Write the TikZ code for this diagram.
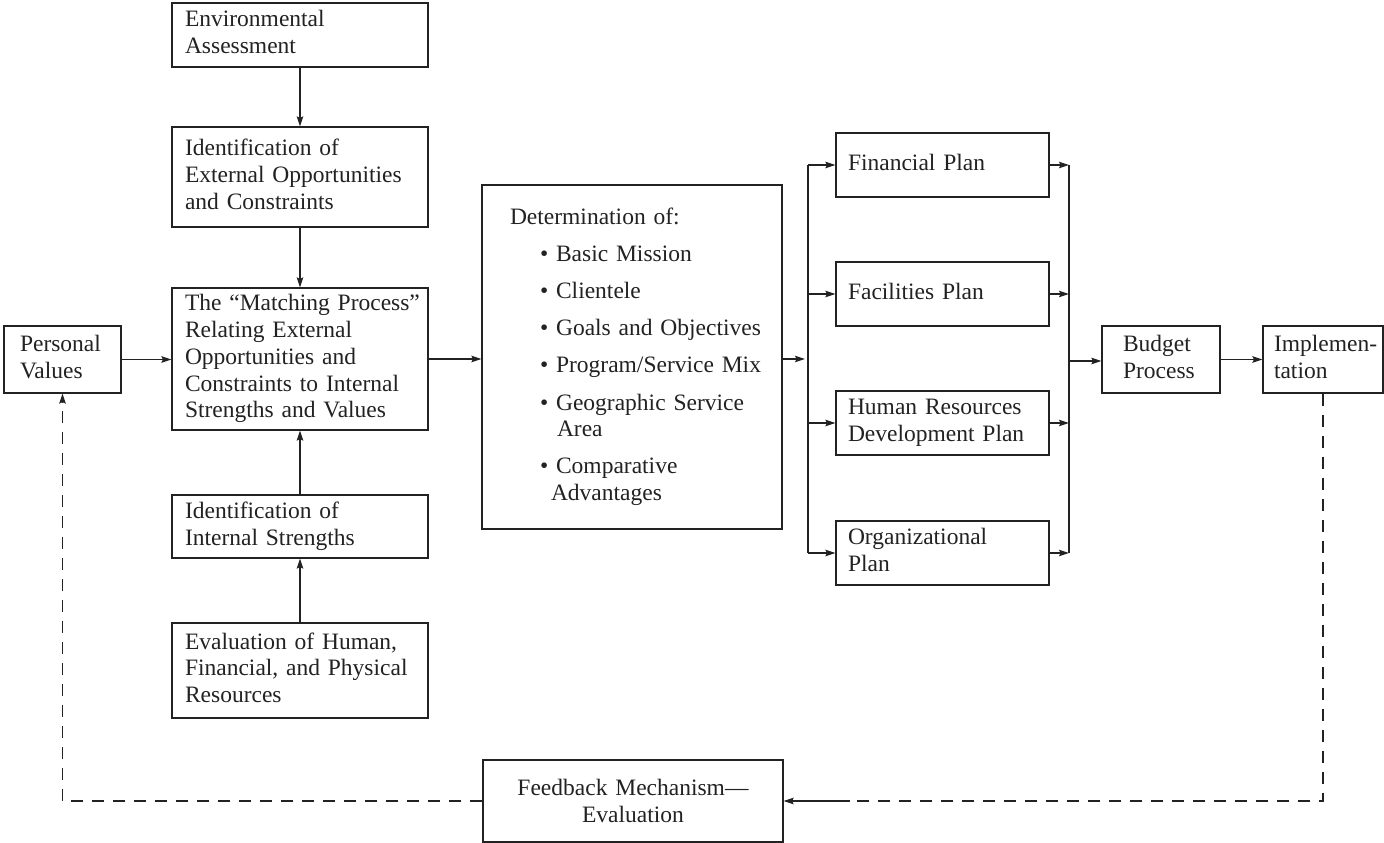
\documentclass[tikz,border=0pt]{standalone}
\usepackage{fontspec}
\newfontfamily\diafont{Liberation Serif}
\usetikzlibrary{arrows.meta}
\definecolor{ink}{HTML}{222222}
% each line of a box is set on its own, never broken
\newcommand\boxlines[1]{\raisebox{-2.5pt}{\begin{tabular}[c]{@{}l@{}}#1\end{tabular}}}
\tikzset{
  box/.style={draw=ink, line width=1.25pt, inner ysep=0pt, align=left, text=ink,
              font={\diafont\fontsize{23.5}{26.7}\selectfont}},
  link/.style={draw=ink, line width=1.25pt},
  arr/.style={link, -{Stealth[length=10pt,width=6.5pt,inset=1.5pt]}},
  fbline/.style={link, dash pattern=on 12pt off 9pt},
}
\begin{document}
\begin{tikzpicture}[x=1pt,y=-1pt]
\useasboundingbox (0,0) rectangle (1384,843);

% left column
\node[box, text width=230pt, inner xsep=13pt, minimum height=64pt] (env) at (300,35)
  {\boxlines{Environmental\\Assessment}};
\node[box, text width=230pt, inner xsep=13pt, minimum height=100pt] (ext) at (300,177)
  {\boxlines{Identification of\\External Opportunities\\and Constraints}};
\node[box, text width=230pt, inner xsep=13pt, minimum height=142pt] (match) at (300,359)
  {\boxlines{The “Matching Process”\\Relating External\\Opportunities and\\Constraints to Internal\\Strengths and Values}};
\node[box, text width=230pt, inner xsep=13pt, minimum height=63pt] (int) at (300,526.5)
  {\boxlines{Identification of\\Internal Strengths}};
\node[box, text width=230pt, inner xsep=13pt, minimum height=95pt] (eval) at (300,670.5)
  {\boxlines{Evaluation of Human,\\Financial, and Physical\\Resources}};

\node[box, text width=85pt, inner xsep=16pt, minimum height=67pt] (pv) at (62.5,359.5)
  {\boxlines{Personal\\Values}};

% determination box
\node[box, text width=244pt, inner xsep=28pt, minimum height=344pt] (det) at (632,357)
  {\boxlines{Determination of:\\[10.5pt]
   \hspace*{30pt}• Basic Mission\\[10.5pt]
   \hspace*{30pt}• Clientele\\[10.5pt]
   \hspace*{30pt}• Goals and Objectives\\[10.5pt]
   \hspace*{30pt}• Program/Service Mix\\[10.5pt]
   \hspace*{30pt}• Geographic Service\\
   \hspace*{47pt}Area\\[10.5pt]
   \hspace*{30pt}• Comparative\\
   \hspace*{41pt}Advantages}};

% plans
\node[box, text width=189pt, inner xsep=12pt, minimum height=64pt] (fin) at (942.5,165) {\boxlines{Financial Plan}};
\node[box, text width=189pt, inner xsep=12pt, minimum height=64pt] (fac) at (942.5,294) {\boxlines{Facilities Plan}};
\node[box, text width=189pt, inner xsep=12pt, minimum height=64pt] (hr)  at (942.5,423) {\boxlines{Human Resources\\Development Plan}};
\node[box, text width=189pt, inner xsep=12pt, minimum height=64pt] (org) at (942.5,553) {\boxlines{Organizational\\Plan}};

\node[box, text width=76pt, inner xsep=21pt, minimum height=67pt] (bud) at (1161,359.5) {\boxlines{Budget\\Process}};
\node[box, text width=98pt, inner xsep=11pt, minimum height=67pt] (imp) at (1323,359.5) {\boxlines{Implemen-\\tation}};

\node[box, align=center, text width=280pt, inner xsep=10pt, minimum height=82pt] (fb) at (633,801)
  {Feedback Mechanism—\\Evaluation};

% connectors in the left column
\draw[arr] (env) -- (ext);
\draw[arr] (ext) -- (match);
\draw[arr] (eval) -- (int);
\draw[arr] (int) -- (match);
\draw[arr] (pv.east) -- (pv.east -| match.west);
\draw[arr] (match.east) -- (match.east -| det.west);

% distribution and collection buses
\coordinate (lb) at (808,359);
\coordinate (rb) at (1069,361);
\draw[arr] (det.east |- lb) -- ([xshift=-3pt]lb);
\draw[link] (fin.west -| lb) -- (org.west -| lb);
\draw[link] (fin.east -| rb) -- (org.east -| rb);
\foreach \n in {fin,fac,hr,org}{
  \draw[arr] (\n.west -| lb) -- (\n.west);
  \draw[arr] (\n.east) -- (\n.east -| rb);
}
\draw[arr] (rb) -- (rb -| bud.west);
\draw[arr] (bud) -- (imp);

% feedback loop
\coordinate (fs) at (850,801);
\draw[fbline] (imp.south) -- (imp.south |- fb.east) -- (fs);
\draw[arr] (fs) -- (fb.east);
\draw[fbline, -{Stealth[length=10pt,width=6.5pt,inset=1.5pt]}] (fb.west) -- (fb.west -| pv.south) -- (pv.south);
\end{tikzpicture}
\end{document}
